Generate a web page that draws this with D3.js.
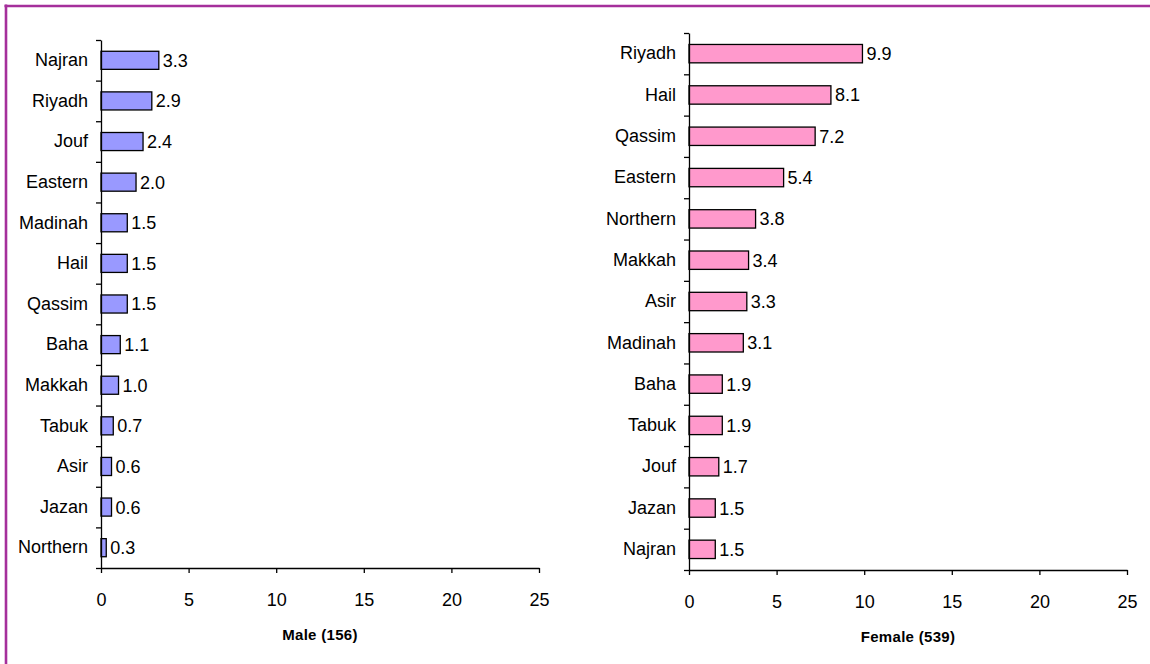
<!DOCTYPE html>
<html>
<head>
<meta charset="utf-8">
<script src="https://cdn.jsdelivr.net/npm/d3@7"></script>
<style>
  html, body { margin: 0; padding: 0; background: #fff; }
  svg { display: block; }
  text { font-family: "Liberation Sans", Arial, sans-serif; fill: #000; }
</style>
</head>
<body>
<svg id="chart" width="1150" height="664"></svg>
<script>
const maleRegions = ["Najran","Riyadh","Jouf","Eastern","Madinah","Hail","Qassim","Baha","Makkah","Tabuk","Asir","Jazan","Northern"];
const maleValues  = [3.3, 2.9, 2.4, 2.0, 1.5, 1.5, 1.5, 1.1, 1.0, 0.7, 0.6, 0.6, 0.3];
const femaleRegions = ["Riyadh","Hail","Qassim","Eastern","Northern","Makkah","Asir","Madinah","Baha","Tabuk","Jouf","Jazan","Najran"];
const femaleValues  = [9.9, 8.1, 7.2, 5.4, 3.8, 3.4, 3.3, 3.1, 1.9, 1.9, 1.7, 1.5, 1.5];
const xTicks = [0, 5, 10, 15, 20, 25];
const titles = ["Male (156)", "Female (539)"];

const svg = d3.select("#chart");
const FS = "18px";

// outer border (top and left)
svg.append("line").attr("x1", 4.5).attr("x2", 1150).attr("y1", 6).attr("y2", 6)
  .attr("stroke", "#a52f9b").attr("stroke-width", 2.6);
svg.append("line").attr("x1", 6).attr("x2", 6).attr("y1", 4.5).attr("y2", 664)
  .attr("stroke", "#a52f9b").attr("stroke-width", 2.6);

function panel(cfg) {
  const { regions, values, x0, x1, y0, y1, fill, title, titleY } = cfg;
  const g = svg.append("g");
  const x = d3.scaleLinear().domain([0, 25]).range([x0, x1]);
  const y = d3.scaleBand().domain(regions).range([y0, y1]).paddingInner(0.555).paddingOuter(0.2775);
  const yIdx = d3.scaleLinear().domain([0, regions.length]).range([y0, y1]);

  // bars
  g.selectAll("rect.bar").data(regions).join("rect")
    .attr("class", "bar")
    .attr("x", x(0))
    .attr("y", d => y(d))
    .attr("width", (d, i) => x(values[i]) - x(0))
    .attr("height", y.bandwidth())
    .attr("fill", fill)
    .attr("stroke", "#000")
    .attr("stroke-width", 1.3);

  // value labels
  g.selectAll("text.val").data(regions).join("text")
    .attr("class", "val")
    .attr("x", (d, i) => x(values[i]) + 4)
    .attr("y", d => y(d) + y.bandwidth() / 2)
    .attr("dy", "0.36em")
    .attr("font-size", FS)
    .text((d, i) => values[i].toFixed(1));

  // y axis: boundary ticks
  const yAxisG = g.append("g").attr("transform", `translate(${x0},0)`)
    .call(d3.axisLeft(yIdx).tickValues(d3.range(0, regions.length + 1)).tickFormat("").tickSize(5).tickSizeOuter(0));
  yAxisG.selectAll("path, line").attr("stroke", "#000").attr("stroke-width", 1.3);

  // y category labels
  const yLab = g.append("g").attr("transform", `translate(${x0},0)`)
    .call(d3.axisLeft(y).tickSize(0).tickPadding(13));
  yLab.select(".domain").remove();
  yLab.selectAll("text").attr("font-size", FS)
    .attr("font-family", "'Liberation Sans', Arial, sans-serif").attr("fill", "#000");

  // x axis
  const xAxisG = g.append("g").attr("transform", `translate(0,${y1})`)
    .call(d3.axisBottom(x).tickValues(xTicks).tickSize(5).tickSizeOuter(0).tickPadding(20.2));
  xAxisG.selectAll("path, line").attr("stroke", "#000").attr("stroke-width", 1.3);
  xAxisG.selectAll("text").attr("font-size", FS)
    .attr("font-family", "'Liberation Sans', Arial, sans-serif").attr("fill", "#000");

  // title
  g.append("text")
    .attr("x", (x0 + x1) / 2)
    .attr("y", titleY)
    .attr("text-anchor", "middle")
    .attr("font-size", "15px")
    .attr("font-weight", "bold")
    .attr("letter-spacing", "0.3px")
    .text(title);
}

panel({ regions: maleRegions, values: maleValues, x0: 101, x1: 539, y0: 40, y1: 568,
        fill: "#9999ff", title: titles[0], titleY: 639.5 });
panel({ regions: femaleRegions, values: femaleValues, x0: 689, x1: 1127, y0: 33, y1: 570,
        fill: "#ff99cc", title: titles[1], titleY: 642 });
</script>
</body>
</html>
